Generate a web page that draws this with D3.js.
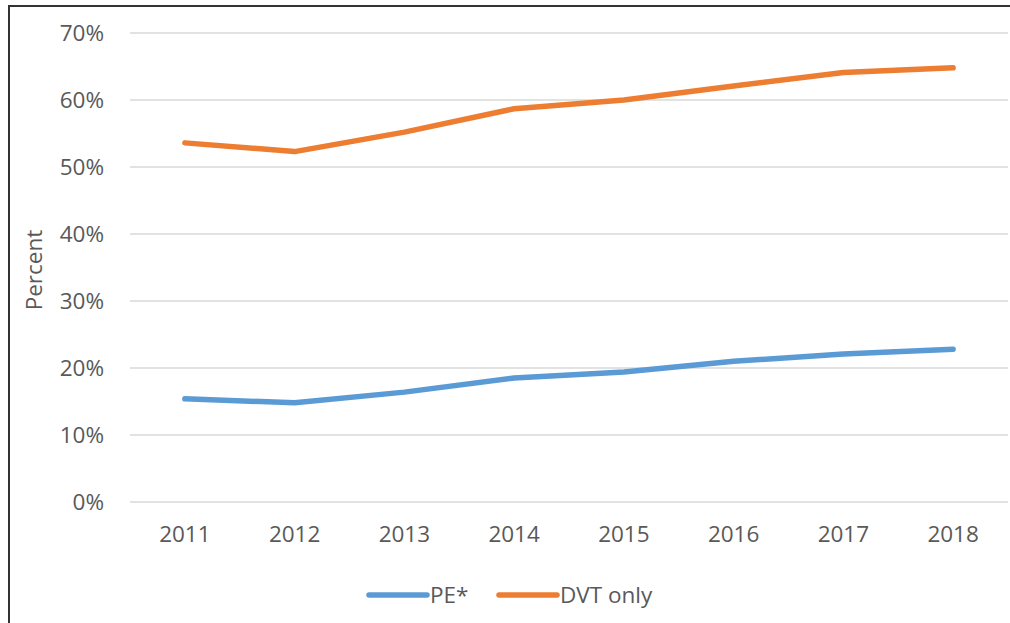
<!DOCTYPE html>
<html>
<head>
<meta charset="utf-8">
<script src="https://cdn.jsdelivr.net/npm/d3@7"></script>
<style>
  body { margin: 0; background: #fff; }
  text { font-family: "Open Sans", "Noto Sans", sans-serif; fill: #595959; }
</style>
</head>
<body>
<div id="chart"></div>
<script>
var years = ["2011", "2012", "2013", "2014", "2015", "2016", "2017", "2018"];
var peValues = [15.4, 14.8, 16.4, 18.5, 19.4, 21.0, 22.1, 22.8];
var dvtValues = [53.6, 52.3, 55.2, 58.7, 60.0, 62.1, 64.1, 64.8];
var yTicks = [0, 10, 20, 30, 40, 50, 60, 70];
var seriesNames = ["PE*", "DVT only"];
var seriesColors = ["#5B9BD5", "#ED7D31"];

var svgWidth = 1010;
var svgHeight = 623;
var margin = { top: 33, right: 2, bottom: 121, left: 130 };
var width = svgWidth - margin.left - margin.right;
var height = svgHeight - margin.top - margin.bottom;
var fontSize = "22.5px";

var svg = d3.select("#chart")
  .append("svg")
  .attr("width", svgWidth)
  .attr("height", svgHeight);

// outer frame (left and top edges visible)
svg.append("path")
  .attr("d", "M9,623 V6 H1010")
  .attr("fill", "none")
  .attr("stroke", "#333")
  .attr("stroke-width", 2);

var chartGroup = svg.append("g")
  .attr("transform", `translate(${margin.left}, ${margin.top})`);

var xScale = d3.scaleBand()
  .domain(years)
  .range([0, width]);

var yScale = d3.scaleLinear()
  .domain([0, 70])
  .range([height, 0]);

// gridlines
chartGroup.append("g")
  .selectAll("line")
  .data(yTicks)
  .enter()
  .append("line")
  .attr("x1", 0)
  .attr("x2", width)
  .attr("y1", d => yScale(d))
  .attr("y2", d => yScale(d))
  .attr("stroke", "#d9d9d9")
  .attr("stroke-width", 1.5);

// y axis
var leftAxis = d3.axisLeft(yScale)
  .tickValues(yTicks)
  .tickFormat(d => d + "%")
  .tickSize(0)
  .tickPadding(26);

var yAxis = chartGroup.append("g").call(leftAxis);
yAxis.select(".domain").remove();
yAxis.selectAll("text").attr("font-size", fontSize).attr("dy", "0.35em");

// x axis
var bottomAxis = d3.axisBottom(xScale)
  .tickSize(0)
  .tickPadding(24);

var xAxis = chartGroup.append("g")
  .attr("transform", `translate(0, ${height})`)
  .call(bottomAxis);
xAxis.select(".domain").remove();
xAxis.selectAll("text").attr("font-size", fontSize);

// y label
svg.append("text")
  .attr("transform", "rotate(-90)")
  .attr("x", -270)
  .attr("y", 42)
  .attr("text-anchor", "middle")
  .attr("font-size", fontSize)
  .text("Percent");

// lines
var line = d3.line()
  .x((d, i) => xScale(years[i]) + xScale.bandwidth() / 2)
  .y(d => yScale(d));

[peValues, dvtValues].forEach(function(vals, i) {
  chartGroup.append("path")
    .datum(vals)
    .attr("d", line)
    .attr("fill", "none")
    .attr("stroke", seriesColors[i])
    .attr("stroke-width", 5.5)
    .attr("stroke-linecap", "round")
    .attr("stroke-linejoin", "round");
});

// legend
var legendX = [369, 499];
var legend = svg.append("g");
seriesNames.forEach(function(name, i) {
  legend.append("line")
    .attr("x1", legendX[i])
    .attr("x2", legendX[i] + 58)
    .attr("y1", 595)
    .attr("y2", 595)
    .attr("stroke", seriesColors[i])
    .attr("stroke-width", 5.5)
    .attr("stroke-linecap", "round");
  legend.append("text")
    .attr("x", legendX[i] + 61)
    .attr("y", 595)
    .attr("dy", "0.35em")
    .attr("font-size", fontSize)
    .text(name);
});
</script>
</body>
</html>
